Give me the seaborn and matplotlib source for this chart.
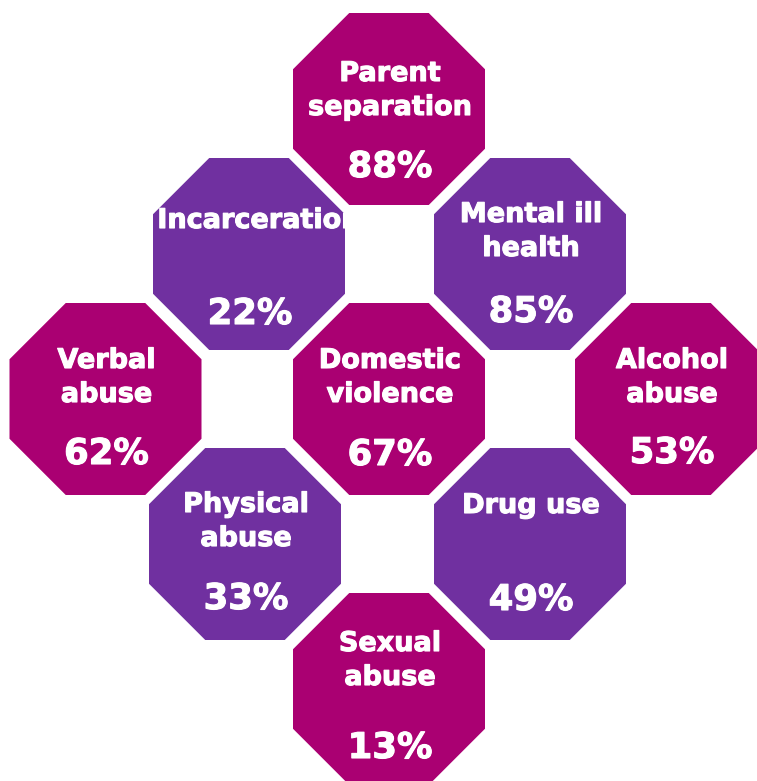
import matplotlib
matplotlib.use("Agg")
import matplotlib.pyplot as plt
import matplotlib.patheffects as pe
from matplotlib.patches import RegularPolygon
import numpy as np
import pandas as pd
import seaborn as sns

# Adverse childhood experiences and the share of respondents reporting each
labels = ["Parent\nseparation", "Incarceration", "Mental ill\nhealth",
          "Verbal\nabuse", "Domestic\nviolence", "Alcohol\nabuse",
          "Physical\nabuse", "Drug use", "Sexual\nabuse"]
percent = [88, 22, 85, 62, 67, 53, 33, 49, 13]

# Tile layout (pixel coordinates of each octagon's centre)
cx = [389, 249, 530, 105.5, 389, 671, 245, 530, 389]
cy = [109, 254, 254, 399, 399, 399, 544, 544, 689]
# text offsets: horizontal shift of the label, baselines of label and percentage
title_dx = [0, 9, 0, 0, 0, 0, 0, 0, 0]
title_dy = [-28, -26, -32, -31, -31, -31, -32, -31, -38]
pct_dy = [68, 70, 68, 65, 66, 64, 65, 66, 69]
shade = ["magenta", "purple", "purple", "magenta", "magenta", "magenta",
         "purple", "purple", "magenta"]

palette = {"magenta": "#AA0072", "purple": "#7030A0"}

W, H, DPI = 757, 781, 100
FLAT_WIDTH = 192  # flat-to-flat width of each octagon in pixels

df = pd.DataFrame({"x": cx, "y": cy, "shade": shade,
                   "label": labels, "pct": percent})

sns.set_theme(style="white")
plt.rcParams["font.family"] = ["DejaVu Sans"]

fig = plt.figure(figsize=(W / DPI, H / DPI), dpi=DPI)
ax = fig.add_axes([0, 0, 1, 1])

# circumradius in pixels -> marker diameter in points
radius_px = FLAT_WIDTH / 2 / np.cos(np.pi / 8)
size_pt = 2 * radius_px * 72 / DPI
sns.scatterplot(data=df, x="x", y="y", hue="shade", palette=palette,
                marker="8", s=size_pt ** 2, linewidth=0, legend=False,
                ax=ax, zorder=1)
ax.set_xlim(0, W)
ax.set_ylim(H, 0)
ax.axis("off")

# slightly heavier strokes for the white lettering
heavy = [pe.withStroke(linewidth=0.8, foreground="white")]

line_gap = 34
for i, r in df.iterrows():
    clip = RegularPolygon((r.x, r.y), numVertices=8, radius=radius_px,
                          orientation=np.pi / 8, transform=ax.transData)
    for k, line in enumerate(r.label.split("\n")):
        t = ax.text(r.x + 1 + title_dx[i], r.y + title_dy[i] + k * line_gap,
                    line, ha="center", va="baseline", color="white",
                    fontsize=19.5, fontweight="bold", zorder=3,
                    path_effects=heavy)
        t.set_clip_path(clip)
    ax.text(r.x + 1, r.y + pct_dy[i], f"{r.pct}%", ha="center",
            va="baseline", color="white", fontsize=25.5, fontweight="bold",
            zorder=3, path_effects=heavy)

fig.savefig("out.png", dpi=DPI)
